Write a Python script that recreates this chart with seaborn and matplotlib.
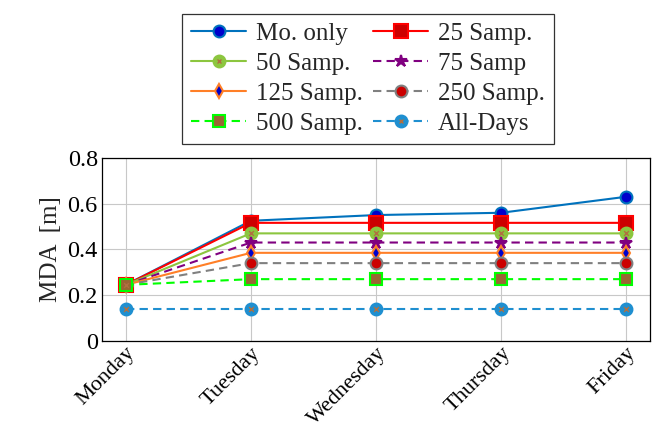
import matplotlib
matplotlib.use("Agg")
import matplotlib.pyplot as plt
import seaborn as sns
import pandas as pd
from matplotlib.ticker import FuncFormatter
from matplotlib.lines import Line2D
from matplotlib.legend_handler import HandlerTuple

days = ["Monday", "Tuesday", "Wednesday", "Thursday", "Friday"]

mo_only = [0.245, 0.525, 0.55, 0.56, 0.63]
samp_25 = [0.245, 0.516, 0.516, 0.516, 0.516]
samp_50 = [0.245, 0.47, 0.47, 0.47, 0.47]
samp_75 = [0.245, 0.43, 0.43, 0.43, 0.43]
samp_125 = [0.245, 0.385, 0.385, 0.385, 0.385]
samp_250 = [0.245, 0.34, 0.34, 0.34, 0.34]
samp_500 = [0.245, 0.27, 0.27, 0.27, 0.27]
all_days = [0.14, 0.14, 0.14, 0.14, 0.14]

labels = ["Mo. only", "25 Samp.", "50 Samp.", "75 Samp",
          "125 Samp.", "250 Samp.", "500 Samp.", "All-Days"]
values = [mo_only, samp_25, samp_50, samp_75, samp_125, samp_250, samp_500, all_days]

# style par série : couleur ligne, tirets, marqueur, face, bord, taille, croix
styles = [
    ("#0072BD", "-", "o", "#0000CC", "#0072BD", 8.5, None),
    ("#FF0000", "-", "s", "#CC0000", "#FF0000", 9.5, None),
    ("#8CC63F", "-", "o", "#8CC63F", "#8CC63F", 8.5, "#B07040"),
    ("#800080", (0, (4, 2.5)), "*", "#800080", "#800080", 9, None),
    ("#FF7F27", "-", "d", "#0000CC", "#FF7F27", 7.5, None),
    ("#808080", (0, (4, 2.5)), "o", "#CC0000", "#808080", 8.5, None),
    ("#00FF00", (0, (4, 2.5)), "s", "#996633", "#00FF00", 8.5, None),
    ("#1F8FD0", (0, (4, 2.5)), "o", "#1F8FD0", "#1F8FD0", 8.5, "#B07040"),
]

sns.set_style("white")
plt.rcParams["font.family"] = ["Liberation Serif", "DejaVu Serif"]
plt.rcParams["mathtext.fontset"] = "stix"

fig = plt.figure(figsize=(6.62, 4.36), dpi=100)
ax = fig.add_axes([0.154, 0.218, 0.828, 0.42])

handles = []
for lab, vals, (col, ls, mk, fc, ec, ms, cross) in zip(labels, values, styles):
    df = pd.DataFrame({"day": days, "val": vals})
    sns.lineplot(data=df, x="day", y="val", ax=ax, color=col, linestyle=ls,
                 linewidth=1.5, marker=mk, markersize=ms, markerfacecolor=fc,
                 markeredgecolor=ec, markeredgewidth=1.5, sort=False, zorder=3)
    line = ax.get_lines()[-1]
    if cross is not None:
        sns.scatterplot(data=df, x="day", y="val", ax=ax, marker="x", s=12,
                        color=cross, linewidth=1, zorder=4)
        xh = Line2D([], [], linestyle="none", marker="x", markersize=3.5,
                    color=cross, markeredgewidth=1)
        handles.append((line, xh))
    else:
        handles.append(line)

ax.set_ylim(0, 0.8)
ax.set_xlim(-0.19, 4.19)
ax.set_yticks([0, 0.2, 0.4, 0.6, 0.8])
ax.yaxis.set_major_formatter(FuncFormatter(lambda v, p: "0" if v == 0 else f"{v:.1f}"))
ax.grid(True, color="#C8C8C8", linewidth=0.8)
ax.tick_params(direction="in", length=4, labelsize=17.5, colors="black", pad=3)
ax.tick_params(axis="x", labelsize=16, pad=2)
for s in ax.spines.values():
    s.set_color("black")
    s.set_linewidth(0.9)
plt.setp(ax.get_xticklabels(), rotation=45, ha="right", rotation_mode="anchor")
ax.set_xlabel("")
ax.set_ylabel("MDA  [m]", fontsize=18)

# légende remplie ligne par ligne (2 colonnes)
order = [0, 2, 4, 6, 1, 3, 5, 7]
leg = fig.legend([handles[i] for i in order], [labels[i] for i in order],
                 ncol=2, loc="upper center",
                 bbox_to_anchor=(0.556, 0.997), fontsize=18, frameon=True,
                 fancybox=False, edgecolor="black", handlelength=2.2,
                 columnspacing=0.4, handletextpad=0.4, labelspacing=0.3,
                 borderpad=0.35, handler_map={tuple: HandlerTuple(ndivide=1)})
leg.get_frame().set_linewidth(0.9)

fig.savefig("out.png", dpi=100)
